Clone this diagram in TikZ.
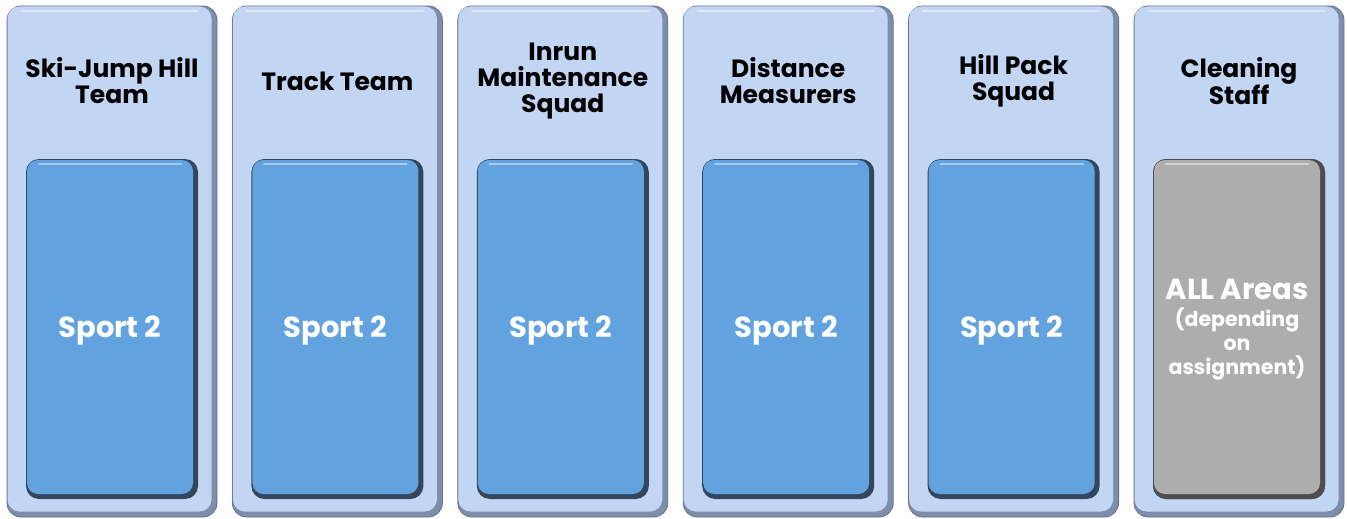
\documentclass[tikz,border=0pt]{standalone}
\usepackage{fontspec}
\setmainfont{Poppins}
\usetikzlibrary{positioning}
\definecolor{colback}{HTML}{C2D5F3}
\definecolor{coledge}{HTML}{7E8DAA}
\definecolor{slotblue}{HTML}{62A3DF}
\definecolor{slotedge}{HTML}{34465E}
\definecolor{slotgrey}{HTML}{ADADAD}
\definecolor{greyedge}{HTML}{4E4E4E}
\newcommand\notefont{\fontsize{20.5}{24}\selectfont}

\begin{document}
\begin{tikzpicture}[x=1pt, y=-1pt,
    column/.style={rectangle, rounded corners=14pt, fill=coledge, draw=coledge!80!black, line width=0.8pt,
      minimum width=210pt, minimum height=511pt},
    face/.style={rectangle, rounded corners=12pt, fill=colback,
      minimum width=204pt, minimum height=505pt},
    slot/.style={rectangle, rounded corners=13pt, fill=slotedge,
      minimum width=172pt, minimum height=340pt},
    slotface/.style={rectangle, rounded corners=11pt, fill=slotblue,
      minimum width=166pt, minimum height=334pt, text=white, align=center, text depth=0pt,
      font=\bfseries\fontsize{29}{32}\selectfont},
    shine/.style={line width=2pt, white, opacity=0.45, line cap=round},
    head/.style={align=center, font=\bfseries\fontsize{25}{26}\selectfont}]
    \useasboundingbox (0,0) rectangle (1347,519);
    % Columns
    \foreach \title [count=\i] in {{Ski-Jump Hill\\Team}, {Track Team}, {Inrun\\Maintenance\\Squad},
        {Distance\\Measurers}, {Hill Pack\\Squad}, {Cleaning\\Staff}} {
      \node[column] (col\i) at (112+225.4*\i-225.4, 261.5) {};
      \node[face] (face\i) at ([xshift=-2.5pt, yshift=2.5pt]col\i.center) {};
      \draw[shine] ([xshift=14pt, yshift=-5pt]face\i.north west) -- ([xshift=-14pt, yshift=-5pt]face\i.north east);
      \node[head] (head\i) at (col\i.center |- 0,81) {\title};
      \node[slot] (slot\i) at (col\i.center |- 0,329) {};
    }
    % Slots
    \foreach \i in {1,...,5} {
      \node[slotface] (area\i) at ([xshift=-2pt, yshift=2pt]slot\i.center) {Sport 2};
      \draw[shine] ([xshift=12pt, yshift=-4pt]area\i.north west) -- ([xshift=-12pt, yshift=-4pt]area\i.north east);
    }
    \node[slot, fill=greyedge] (slot6) at (col6.center |- 0,329) {};
    \node[slotface, fill=slotgrey] (area6) at ([xshift=-2pt, yshift=2pt]slot6.center)
      {ALL Areas\\[-5pt]\notefont(depending\\[-8pt]\notefont on\\[-8pt]\notefont assignment)};
    \draw[shine] ([xshift=12pt, yshift=-4pt]area6.north west) -- ([xshift=-12pt, yshift=-4pt]area6.north east);
\end{tikzpicture}
\end{document}
